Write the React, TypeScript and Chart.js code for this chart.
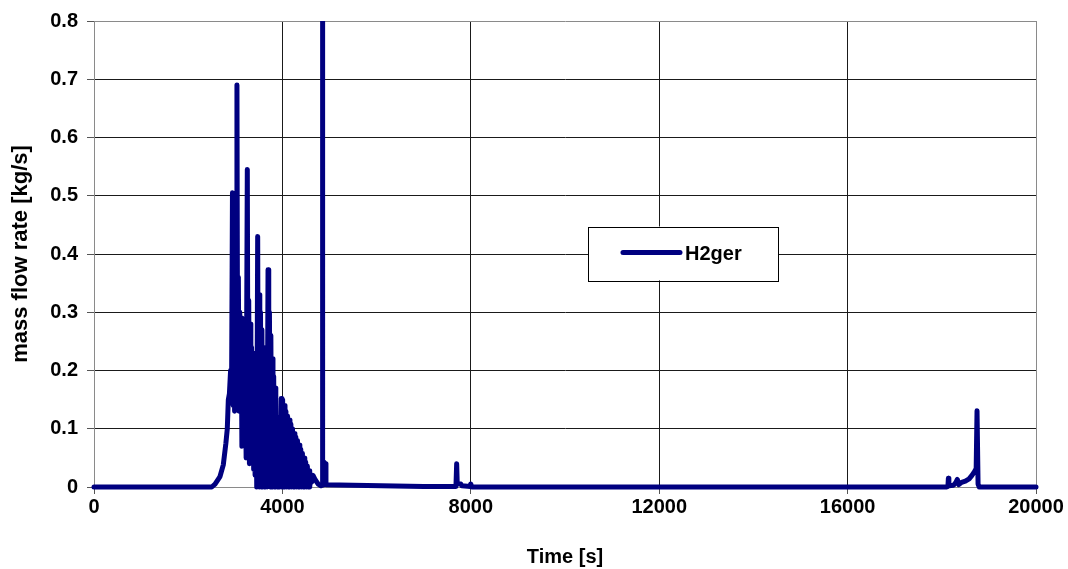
import React, { useEffect, useRef } from "react";
import { Chart, registerables } from "chart.js";

Chart.register(...registerables);

// ---- data ----
const seriesLabel = "H2ger";
const xTitle = "Time [s]";
const yTitle = "mass flow rate [kg/s]";

const timeS: number[] = [
  0, 2500, 2570, 2675, 2745, 2800, 2830, 2852, 2875, 2900, 2920,
  2940, 2955, 2970, 2985, 3000, 3015, 3035, 3050, 3065, 3080, 3095, 3110, 3125, 3140, 3155, 3170, 3185, 3200, 3215, 3230,
  3255, 3270, 3285, 3300, 3315, 3330, 3345, 3360, 3375, 3390, 3405, 3420, 3440, 3455,
  3475, 3490, 3505, 3520, 3535, 3550, 3565, 3580, 3595, 3610, 3625, 3640, 3660, 3675,
  3695, 3710, 3725, 3740, 3755, 3770, 3785, 3800, 3815, 3830, 3845, 3860, 3875, 3890,
  3940, 3975, 3990, 4005, 4020, 4040, 4055, 4075, 4090, 4110, 4125, 4145, 4160, 4180, 4195, 4215, 4230,
  4250, 4265, 4285, 4300, 4320, 4335, 4355, 4370, 4390, 4405, 4425, 4440, 4460, 4475, 4495, 4510,
  4530, 4545, 4565, 4580, 4600, 4620, 4650, 4700, 4760, 4820, 4843,
  4850, 4858, 4915, 4925, 5500, 6100, 7000, 7685,
  7700, 7712, 7790, 7810, 7990, 8000, 8020,
  18100, 18130, 18140, 18150, 18250, 18300, 18330, 18360, 18420, 18500, 18580, 18640, 18700, 18730,
  18748, 18770, 18795, 20000,
];

const h2ger: number[] = [
  0, 0, 0.005, 0.018, 0.038, 0.075, 0.1, 0.15, 0.16, 0.2, 0.15,
  0.505, 0.14, 0.35, 0.13, 0.3, 0.14, 0.69, 0.15, 0.36, 0.13, 0.3, 0.14, 0.29, 0.07, 0.25, 0.08, 0.22, 0.1, 0.2, 0.05,
  0.545, 0.06, 0.32, 0.04, 0.28, 0.05, 0.24, 0.04, 0.23, 0.03, 0.2, 0.02, 0.17, 0.0,
  0.43, 0.02, 0.33, 0.0, 0.3, 0.0, 0.27, 0.0, 0.24, 0.0, 0.2, 0.0, 0.18, 0.0,
  0.373, 0.02, 0.3, 0.0, 0.26, 0.0, 0.22, 0.0, 0.19, 0.0, 0.17, 0.0, 0.12, 0.0,
  0.0, 0.152, 0.0, 0.15, 0.0, 0.14, 0.0, 0.13, 0.0, 0.122, 0.0, 0.115, 0.0, 0.108, 0.0, 0.1, 0.0,
  0.092, 0.0, 0.086, 0.0, 0.08, 0.0, 0.072, 0.0, 0.065, 0.0, 0.058, 0.0, 0.05, 0.0, 0.043, 0.0,
  0.036, 0.0, 0.028, 0.0, 0.02, 0.008, 0.02, 0.012, 0.005, 0.002, 0.003,
  0.9, 0.045, 0.04, 0.004, 0.003, 0.002, 0.001, 0.001,
  0.04, 0.006, 0.005, 0.002, 0.001, 0.005, 0.0,
  0.0, 0.001, 0.015, 0.002, 0.003, 0.008, 0.013, 0.004, 0.008, 0.01, 0.014, 0.02, 0.027, 0.032,
  0.131, 0.005, 0.0, 0.0,
];

const xTicks: number[] = [0, 4000, 8000, 12000, 16000, 20000];
const yTicks: number[] = [0, 0.1, 0.2, 0.3, 0.4, 0.5, 0.6, 0.7, 0.8];

const lineColor = "#000080";
const FONT = "'Liberation Sans', Arial, sans-serif";

const legendPlugin = {
  id: "insideLegend",
  afterDraw(chart: any) {
    const { ctx, chartArea } = chart;
    const ds = chart.data.datasets[0];
    const w = chartArea.right - chartArea.left;
    const h = chartArea.bottom - chartArea.top;
    const bx = chartArea.left + w * 0.5244;
    const by = chartArea.top + h * 0.441;
    const bw = w * 0.2017;
    const bh = h * 0.1156;
    ctx.save();
    ctx.fillStyle = "#ffffff";
    ctx.fillRect(bx, by, bw, bh);
    ctx.strokeStyle = "#000000";
    ctx.lineWidth = 1;
    ctx.strokeRect(Math.round(bx) + 0.5, Math.round(by) + 0.5, Math.round(bw), Math.round(bh));
    const cy = by + bh / 2;
    ctx.strokeStyle = ds.borderColor;
    ctx.lineWidth = 5;
    ctx.lineCap = "round";
    ctx.beginPath();
    ctx.moveTo(bx + 35, cy - 1);
    ctx.lineTo(bx + 92, cy - 1);
    ctx.stroke();
    ctx.fillStyle = "#000";
    ctx.font = `bold 20px ${FONT}`;
    ctx.textBaseline = "middle";
    ctx.textAlign = "left";
    ctx.fillText(ds.label, bx + 97, cy + 1);
    ctx.restore();
  },
};

export default function App() {
  const canvasRef = useRef<HTMLCanvasElement | null>(null);

  useEffect(() => {
    const canvas = canvasRef.current;
    if (!canvas) return;
    const points = timeS.map((t, i) => ({ x: t, y: h2ger[i] }));
    const chart = new Chart(canvas, {
      type: "line",
      data: {
        datasets: [
          {
            label: seriesLabel,
            data: points,
            borderColor: lineColor,
            backgroundColor: lineColor,
            borderWidth: 5,
            pointRadius: 0,
            tension: 0,
            borderJoinStyle: "round",
            borderCapStyle: "round",
            clip: { left: 3, top: 0, right: 3, bottom: 3 },
          } as any,
        ],
      },
      options: {
        animation: false,
        responsive: false,
        maintainAspectRatio: false,
        layout: { padding: { left: 0, top: 20, right: 32, bottom: 0 } },
        plugins: {
          legend: { display: false },
          tooltip: { enabled: false },
        },
        scales: {
          x: {
            type: "linear",
            min: 0,
            max: 20000,
            afterBuildTicks: (scale: any) => {
              scale.ticks = xTicks.map((v) => ({ value: v }));
            },
            afterFit: (scale: any) => {
              scale.height = 82;
            },
            ticks: {
              color: "#000",
              font: { family: FONT, size: 20, weight: "bold" },
              padding: 1,
              maxRotation: 0,
              autoSkip: false,
              callback: (v: any) => String(v),
            },
            grid: {
              color: (c: any) =>
                c.tick && (c.tick.value === 0 || c.tick.value === 20000) ? "#8a8a8a" : "#1a1a1a",
              tickColor: "#555",
              tickLength: 7,
              lineWidth: 1,
            },
            border: { color: "#8a8a8a", width: 1 },
            title: {
              display: true,
              text: xTitle,
              color: "#000",
              font: { family: FONT, size: 20, weight: "bold" },
              padding: { top: 0, bottom: 0 },
            },
          },
          y: {
            type: "linear",
            min: 0,
            max: 0.8,
            afterBuildTicks: (scale: any) => {
              scale.ticks = yTicks.map((v) => ({ value: v }));
            },
            afterFit: (scale: any) => {
              scale.width = 94;
            },
            ticks: {
              color: "#000",
              font: { family: FONT, size: 20, weight: "bold" },
              padding: 9,
              callback: (v: any) => String(Number(Number(v).toFixed(1))),
            },
            grid: {
              color: (c: any) =>
                c.tick && (c.tick.value === 0.8 || c.tick.value === 0) ? "#8a8a8a" : "#1a1a1a",
              tickColor: "#555",
              tickLength: 7,
              lineWidth: 1,
            },
            border: { color: "#8a8a8a", width: 1 },
            title: {
              display: true,
              text: yTitle,
              color: "#000",
              font: { family: FONT, size: 22, weight: "bold" },
              padding: { top: 8, bottom: 0 },
            },
          },
        },
      },
      plugins: [legendPlugin],
    });
    return () => chart.destroy();
  }, []);

  return (
    <div style={{ position: "fixed", left: 0, top: 0, width: 1068, height: 569, background: "#fff" }}>
      <canvas ref={canvasRef} width={1068} height={569} style={{ display: "block" }} />
    </div>
  );
}
